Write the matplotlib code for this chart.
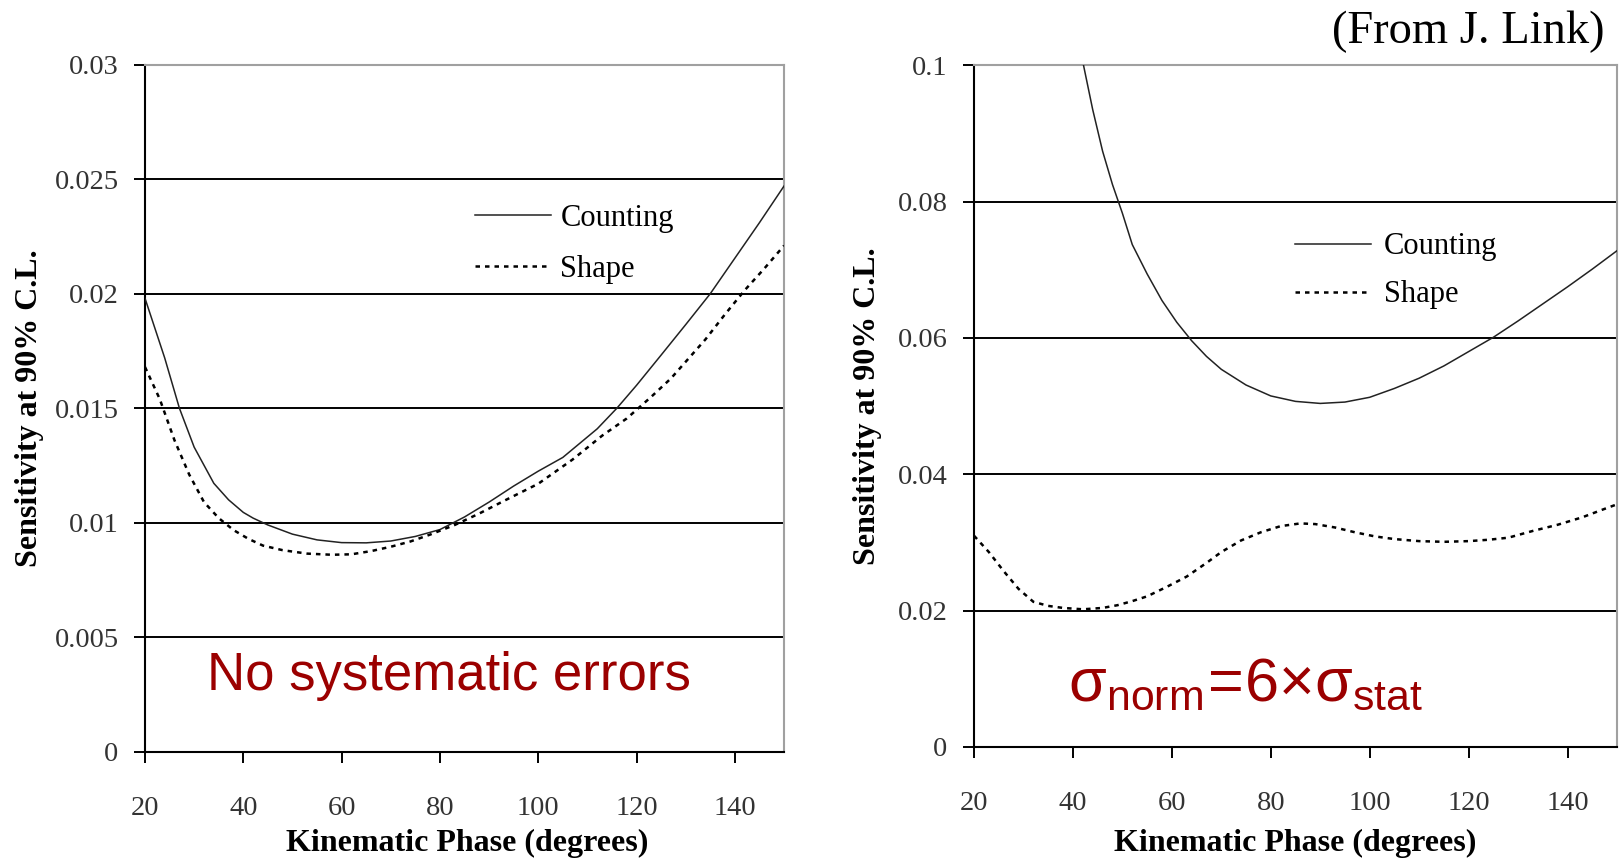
import numpy as np
import matplotlib
matplotlib.use("Agg")
import matplotlib.pyplot as plt

plt.rcParams['font.family'] = ['Liberation Serif', 'DejaVu Serif']
plt.rcParams['mathtext.fontset'] = 'custom'
plt.rcParams['mathtext.rm'] = 'Liberation Sans'
plt.rcParams['mathtext.it'] = 'Liberation Sans'

# Sensitivity vs kinematic phase, no systematic errors
phase_a_count = [20, 24, 27, 30, 34, 37, 40, 42, 45, 50, 55, 60, 65, 70, 75, 80, 85, 90,
                 95, 100, 105, 112, 116, 120, 125, 130, 135, 140, 145, 150]
sens_a_count = [0.0198, 0.0172, 0.0150, 0.0133, 0.01172, 0.0110, 0.01045, 0.0102, 0.0099,
                0.0095, 0.00925, 0.00913, 0.00912, 0.00920, 0.00940, 0.00970, 0.01025,
                0.01090, 0.01160, 0.01225, 0.01285, 0.01410, 0.0150, 0.0160, 0.01732,
                0.01865, 0.0200, 0.02155, 0.0231, 0.0247]
phase_a_shape = [20, 23, 26, 29, 32, 35, 38, 41, 44, 48, 53, 58, 62, 66, 70, 74, 78, 83,
                 88, 93, 100, 107, 113, 118, 123, 127, 134, 138, 142, 146, 150]
sens_a_shape = [0.0168, 0.0154, 0.0136, 0.0121, 0.0109, 0.0102, 0.00968, 0.00930, 0.00900,
                0.00880, 0.00865, 0.00860, 0.00862, 0.00876, 0.00895, 0.00918, 0.00948,
                0.00990, 0.01040, 0.01095, 0.01170, 0.01276, 0.0138, 0.01455, 0.0155,
                0.0163, 0.0180, 0.0191, 0.02015, 0.0211, 0.0221]

# Sensitivity vs kinematic phase, sigma_norm = 6 x sigma_stat
phase_b_count = [42, 44, 46, 48, 50, 52, 55, 58, 61, 64, 67, 70, 75, 80, 85, 90, 95, 100,
                 105, 110, 115, 120, 125, 130, 135, 140, 145, 150]
sens_b_count = [0.1005, 0.0935, 0.0874, 0.0825, 0.0783, 0.0737, 0.0694, 0.0655, 0.0623,
                0.0596, 0.0573, 0.0554, 0.0531, 0.0515, 0.0507, 0.0504, 0.0506, 0.0513,
                0.0526, 0.0541, 0.0559, 0.0580, 0.0601, 0.0625, 0.0650, 0.0675, 0.0701,
                0.0728]
phase_b_shape = [20, 23, 26, 29, 32, 35, 38, 42, 46, 49, 52, 55, 59, 63, 67, 70, 74, 78,
                 82, 86, 89, 93, 97, 101, 105, 110, 115, 120, 124, 128, 133, 138, 143,
                 147, 150]
sens_b_shape = [0.0310, 0.0286, 0.0258, 0.0232, 0.0213, 0.0207, 0.0204, 0.0202, 0.0204,
                0.0208, 0.0214, 0.0221, 0.0235, 0.0250, 0.0270, 0.0286, 0.0303, 0.0315,
                0.0324, 0.0328, 0.0327, 0.0322, 0.0315, 0.0309, 0.0305, 0.0302, 0.0301,
                0.0302, 0.0304, 0.0307, 0.0317, 0.0326, 0.0337, 0.0348, 0.0356]

x_ticks = [20, 40, 60, 80, 100, 120, 140]
y_ticks_a = [0, 0.005, 0.01, 0.015, 0.02, 0.025, 0.03]
y_labels_a = ['0', '0.005', '0.01', '0.015', '0.02', '0.025', '0.03']
y_ticks_b = [0, 0.02, 0.04, 0.06, 0.08, 0.1]
y_labels_b = ['0', '0.02', '0.04', '0.06', '0.08', '0.1']

RED = '#9b0000'
SHAPE_LS = (0, (1.8, 2.0))
W, H = 1623, 860
fig = plt.figure(figsize=(W / 100, H / 100), dpi=100)


def panel(rect, yticks, ylabels):
    ax = fig.add_axes(rect)
    ax.set_xlim(20, 150)
    ax.set_ylim(yticks[0], yticks[-1])
    ax.set_xticks(x_ticks)
    ax.set_yticks(yticks)
    ax.set_yticklabels(ylabels)
    ax.tick_params(axis='both', direction='out', length=8, width=1.4,
                   labelsize=20.5, colors='black')
    ax.tick_params(axis='x', pad=24)
    ax.tick_params(axis='y', pad=11)
    for t in ax.get_xticklabels() + ax.get_yticklabels():
        t.set_color('#333333')
    for y in yticks[1:-1]:
        ax.axhline(y, color='black', lw=1.4, zorder=1)
    for s in ['left', 'bottom']:
        ax.spines[s].set_linewidth(1.5)
        ax.spines[s].set_color('black')
    for s in ['top', 'right']:
        ax.spines[s].set_linewidth(1.5)
        ax.spines[s].set_color('#a0a0a0')
    ax.set_xlabel('Kinematic Phase (degrees)', fontsize=23, fontweight='bold')
    ax.set_ylabel('Sensitivity at 90% C.L.', fontsize=23, fontweight='bold')
    ax.xaxis.label.set_va('center')
    ax.yaxis.label.set_va('center')
    return ax


ax1 = panel([145 / W, (H - 751.7) / H, 639 / W, 687 / H], y_ticks_a, y_labels_a)
ax1.xaxis.set_label_coords(0.504, -0.133)
ax1.yaxis.set_label_coords(-0.1815, 0.5)
ax1.plot(phase_a_count, sens_a_count, color='#222222', lw=1.1, label='Counting', zorder=3)
ax1.plot(phase_a_shape, sens_a_shape, color='black', lw=1.8, ls=SHAPE_LS,
         label='Shape', zorder=3)
ax1.legend(loc='upper left', bbox_to_anchor=(0.516, 0.797), frameon=False,
           fontsize=22, handlelength=2.5, handletextpad=0.3, labelspacing=0.72,
           borderpad=0, borderaxespad=0)
ax1.text(207, H - 690, 'No systematic errors', transform=None, fontsize=38,
         color=RED, family='Liberation Sans', ha='left', va='baseline')

ax2 = panel([974 / W, (H - 747) / H, 643 / W, 681.7 / H], y_ticks_b, y_labels_b)
ax2.xaxis.set_label_coords(0.5, -0.141)
ax2.yaxis.set_label_coords(-0.1664, 0.5)
ax2.plot(phase_b_count, sens_b_count, color='#222222', lw=1.1, label='Counting', zorder=3)
ax2.plot(phase_b_shape, sens_b_shape, color='black', lw=1.8, ls=SHAPE_LS,
         label='Shape', zorder=3)
ax2.legend(loc='upper left', bbox_to_anchor=(0.499, 0.755), frameon=False,
           fontsize=22, handlelength=2.5, handletextpad=0.42, labelspacing=0.62,
           borderpad=0, borderaxespad=0)
ax2.text(1068, H - 700, r'$\mathrm{σ_{norm}\!=\!6{×}σ_{stat}}$', transform=None,
         fontsize=44, color=RED, ha='left', va='baseline')

fig.text(1604 / W, (H - 43) / H, '(From J. Link)', fontsize=33.5, ha='right',
         va='baseline', color='black')

fig.savefig('out.png', dpi=100, facecolor='white')
